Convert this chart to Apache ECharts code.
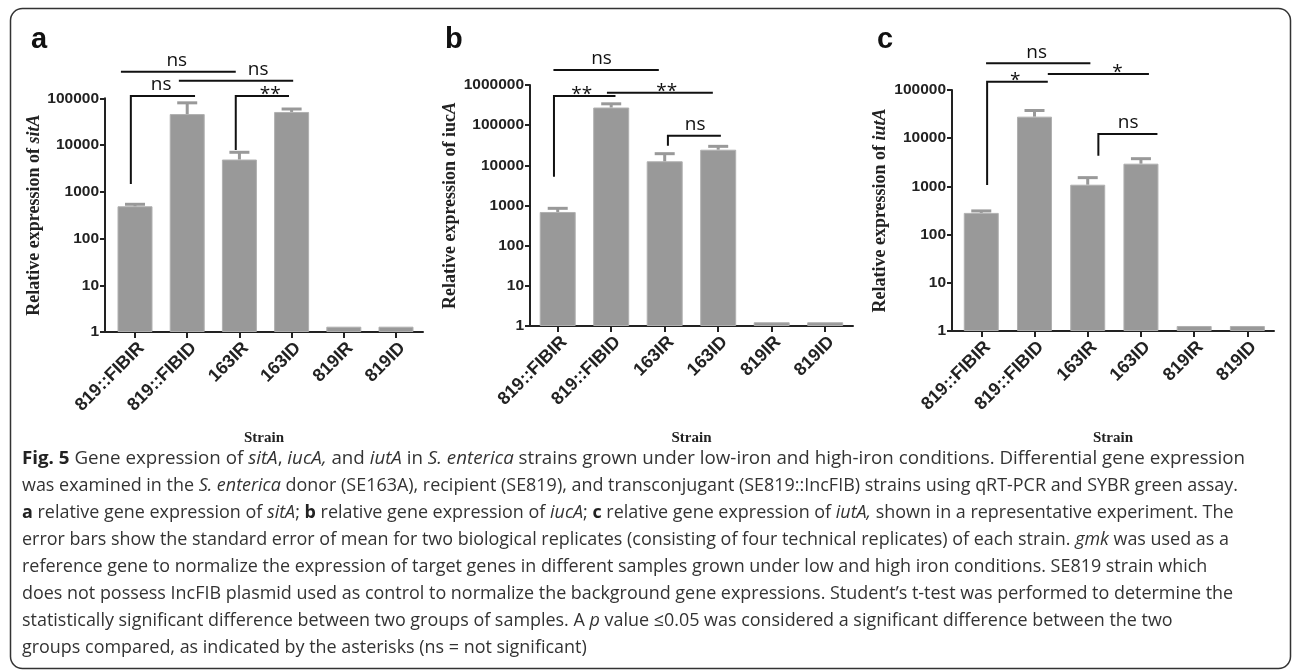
<!DOCTYPE html>
<html>
<head>
<meta charset="utf-8">
<script src="https://cdn.jsdelivr.net/npm/echarts@6/dist/echarts.min.js"></script>
<style>
html, body { margin: 0; padding: 0; background: #fff; }
#container { width: 1292px; height: 672px; }
</style>
</head>
<body>
<div id="container"></div>
<script>
// strains on the x axis (same in every panel)
var strains = ['819::FIBIR', '819::FIBID', '163IR', '163ID', '819IR', '819ID'];
var tickPos = [0, 1, 2, 3, 4, 5];

// a - sitA (bar value, top of error bar)
var sitA = [490, 46000, 4900, 51000, 1.3, 1.3];
var sitAErr = [540, 80000, 7000, 59000, '-', '-'];
// b - iucA
var iucA = [690, 275000, 12600, 24500, 1.24, 1.24];
var iucAErr = [850, 340000, 19500, 29700, '-', '-'];
// c - iutA
var iutA = [282, 28000, 1085, 2960, 1.27, 1.27];
var iutAErr = [310, 37600, 1520, 3760, '-', '-'];

// significance brackets: [x start, x end, level, drop down to (0 = none), label x]
var bracketsA = [[-0.27, 1.93, 371000, 0, 0.8], [0.84, 3.03, 238000, 0, 2.36], [-0.08, 1.15, 112000, 1470, 0.5], [1.93, 2.95, 112000, 7830, 2.59]];
var bracketLabelsA = ['ns', 'ns', 'ns', '**'];
var bracketsB = [[-0.08, 1.89, 2360000, 0, 0.82], [-0.07, 1.08, 532000, 5210, 0.45], [0.92, 2.90, 643000, 0, 2.04], [2.06, 3.05, 54600, 30800, 2.57]];
var bracketLabelsB = ['ns', '**', '**', 'ns'];
var bracketsC = [[0.09, 2.05, 358000, 0, 1.04], [0.11, 1.25, 149000, 1070, 0.64], [1.25, 3.15, 215000, 0, 2.56], [2.2, 3.31, 12200, 4330, 2.76]];
var bracketLabelsC = ['ns', '*', '*', 'ns'];

var captionLines = [
    '{b|Fig. 5} Gene expression of {i|sitA}, {i|iucA,} and {i|iutA} in {i|S. enterica} strains grown under low-iron and high-iron conditions. Differential gene expression',
    'was examined in the {i|S. enterica} donor (SE163A), recipient (SE819), and transconjugant (SE819::IncFIB) strains using qRT-PCR and SYBR green assay.',
    '{b|a} relative gene expression of {i|sitA}; {b|b} relative gene expression of {i|iucA}; {b|c} relative gene expression of {i|iutA,} shown in a representative experiment. The',
    'error bars show the standard error of mean for two biological replicates (consisting of four technical replicates) of each strain. {i|gmk} was used as a',
    'reference gene to normalize the expression of target genes in different samples grown under low and high iron conditions. SE819 strain which',
    'does not possess IncFIB plasmid used as control to normalize the background gene expressions. Student\u2019s t-test was performed to determine the',
    'statistically significant difference between two groups of samples. A {i|p} value \u22640.05 was considered a significant difference between the two',
    'groups compared, as indicated by the asterisks (ns = not significant)'
];

var axisColor = '#222';
var barColor = '#999999';

// panel layout
var panels = [
    {letter: 'a', lx: 31, grid: {left: 105, top: 98.3, width: 318, height: 233.7}, xmin: -0.575, xmax: 5.517, ymax: 100000, bw: 35,
        title: 'Relative expression of {i|sitA}', gap: 61, sgap: 99, vals: sitA, errs: sitAErr, br: bracketsA, brl: bracketLabelsA},
    {letter: 'b', lx: 445, grid: {left: 530, top: 85, width: 323, height: 241}, xmin: -0.518, xmax: 5.52, ymax: 1000000, bw: 36,
        title: 'Relative expression of iuc{i|A}', gap: 65, sgap: 105, vals: iucA, errs: iucAErr, br: bracketsB, brl: bracketLabelsB},
    {letter: 'c', lx: 877, grid: {left: 952, top: 90, width: 322, height: 241}, xmin: -0.55, xmax: 5.5, ymax: 100000, bw: 35,
        title: 'Relative expression of {i|iutA}', gap: 63, sgap: 100, vals: iutA, errs: iutAErr, br: bracketsC, brl: bracketLabelsC}
];

var grids = [], xAxes = [], yAxes = [], series = [], graphics = [];

panels.forEach(function (p, k) {
    grids.push(p.grid);
    xAxes.push({
        type: 'value', gridIndex: k, min: p.xmin, max: p.xmax,
        name: 'Strain', nameLocation: 'middle', nameGap: p.sgap,
        nameTextStyle: {fontFamily: 'Liberation Serif', fontWeight: 'bold', fontSize: 15, color: axisColor},
        axisLine: {show: true, onZero: false, lineStyle: {color: axisColor, width: 2}},
        axisTick: {show: true, length: 6, customValues: tickPos, lineStyle: {color: axisColor, width: 2}},
        axisLabel: {customValues: tickPos, rotate: 45, margin: 7, verticalAlign: 'top',
            fontFamily: 'Liberation Sans', fontWeight: 'bold', fontSize: 18, color: axisColor,
            formatter: function (v) { return strains[Math.round(v)]; }},
        splitLine: {show: false}
    });
    yAxes.push({
        type: 'log', logBase: 10, gridIndex: k, min: 1, max: p.ymax,
        name: p.title, nameLocation: 'middle', nameGap: p.gap,
        nameTextStyle: {fontFamily: 'Liberation Serif', fontWeight: 'bold', fontSize: 18, color: axisColor,
            rich: {i: {fontFamily: 'Liberation Serif', fontWeight: 'bold', fontStyle: 'italic', fontSize: 18, color: axisColor}}},
        axisLine: {show: true, onZero: false, lineStyle: {color: axisColor, width: 2}},
        axisTick: {show: true, length: 5, lineStyle: {color: axisColor, width: 2}},
        axisLabel: {margin: 6, fontFamily: 'Liberation Sans', fontWeight: 'bold', fontSize: 15.5, color: axisColor,
            formatter: function (v) { return String(Math.round(v)); }},
        splitLine: {show: false}
    });

    series.push({
        type: 'bar', xAxisIndex: k, yAxisIndex: k, barWidth: p.bw,
        itemStyle: {color: barColor, borderColor: '#b0b0b0', borderWidth: 1},
        data: p.vals.map(function (v, i) { return [tickPos[i], v]; })
    });

    // error bars (upper whisker only)
    series.push({
        type: 'custom', xAxisIndex: k, yAxisIndex: k, encode: {x: 0, y: 1}, z: 3,
        data: p.errs.map(function (e, i) { return [tickPos[i], e, p.vals[i]]; }),
        renderItem: function (params, api) {
            var top = api.value(1);
            if (isNaN(top)) return;
            var a = api.coord([api.value(0), api.value(2)]);
            var b = api.coord([api.value(0), top]);
            return {type: 'group', children: [
                {type: 'line', shape: {x1: a[0], y1: a[1], x2: b[0], y2: b[1]}, style: {stroke: barColor, lineWidth: 3}},
                {type: 'line', shape: {x1: b[0] - 10, y1: b[1], x2: b[0] + 10, y2: b[1]}, style: {stroke: barColor, lineWidth: 3}}
            ]};
        }
    });

    // significance brackets
    series.push({
        type: 'custom', xAxisIndex: k, yAxisIndex: k, encode: {x: 0, y: 2}, z: 4, clip: false,
        data: p.br,
        renderItem: function (params, api) {
            var x0 = api.value(0), x1 = api.value(1), lvl = api.value(2), drop = api.value(3);
            var pts = [api.coord([x0, lvl]), api.coord([x1, lvl])];
            if (drop > 0) pts.unshift(api.coord([x0, drop]));
            var lp = api.coord([api.value(4), lvl]);
            var label = p.brl[params.dataIndex];
            var star = label.indexOf('*') >= 0;
            return {type: 'group', children: [
                {type: 'polyline', shape: {points: pts}, style: {stroke: '#111', lineWidth: 2, fill: null, lineJoin: 'miter'}},
                {type: 'text', style: {text: label, x: lp[0], y: lp[1] - (star ? 1 : 11), align: 'center', verticalAlign: 'middle',
                    font: '19px "Open Sans"', fill: '#111'}}
            ]};
        }
    });

    graphics.push({type: 'text', left: p.lx, top: 25, style: {text: p.letter, font: 'bold 29px "Liberation Sans"', fill: '#111'}});
});

// caption, sized so a plain line spans the width it has in the figure
var plain = function (s) { return s.replace(/\{[a-z]+\|([^}]*)\}/g, '$1'); };
var ctx = document.createElement('canvas').getContext('2d');
ctx.font = '16px "Open Sans"';
var capSize = 16 * 1222 / ctx.measureText(plain(captionLines[1])).width;
captionLines.forEach(function (line, i) {
    graphics.push({type: 'text', x: 22, y: 459 + 27 * i, scaleX: i === 0 ? 1.045 : 1, style: {
        text: line, fill: '#333', font: capSize + 'px "Open Sans"', verticalAlign: 'middle',
        rich: {
            b: {fontFamily: 'Open Sans', fontWeight: 'bold', fontSize: capSize, fill: '#222'},
            i: {fontFamily: 'Open Sans', fontStyle: 'italic', fontSize: capSize, fill: '#333'}
        }
    }});
});
graphics.push({type: 'rect', shape: {x: 10.5, y: 8.5, width: 1280, height: 660, r: 12}, style: {fill: 'none', stroke: '#333', lineWidth: 1.5}});

var mychart = echarts.init(document.getElementById('container'));
mychart.setOption({
    animation: false,
    backgroundColor: '#fff',
    grid: grids,
    xAxis: xAxes,
    yAxis: yAxes,
    series: series,
    graphic: graphics
});
</script>
</body>
</html>
